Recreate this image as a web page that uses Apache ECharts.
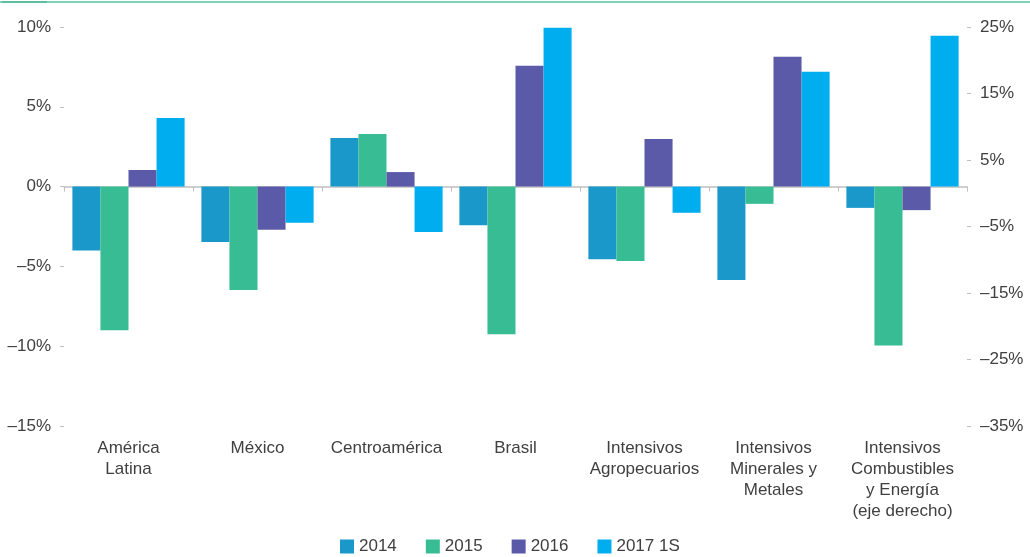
<!DOCTYPE html>
<html>
<head>
<meta charset="utf-8">
<script src="https://cdn.jsdelivr.net/npm/echarts@6/dist/echarts.min.js"></script>
<style>
    html, body { margin: 0; padding: 0; background: #fff; }
    #main { width: 1030px; height: 557px; }
</style>
</head>
<body>
<div id="main"></div>
<script>
    // categorias (la ultima va en el eje derecho)
    const categories = ['América\nLatina', 'México', 'Centroamérica', 'Brasil',
        'Intensivos\nAgropecuarios', 'Intensivos\nMinerales y\nMetales',
        'Intensivos\nCombustibles\ny Energía\n(eje derecho)'];
    const years = ['2014', '2015', '2016', '2017 1S'];
    const v2014 = [-4.0, -3.47, 3.05, -2.42, -4.55, -5.85, -3.2];
    const v2015 = [-9.0, -6.48, 3.30, -9.25, -4.66, -1.08, -23.9];
    const v2016 = [1.04, -2.71, 0.91, 7.57, 2.98, 8.13, -3.54];
    const v2017 = [4.3, -2.27, -2.84, 9.96, -1.64, 7.19, 22.7];
    const colors = ['#1b98ca', '#37bc93', '#5a5aa8', '#00adef'];
    const rightIndex = 6;

    const leftTicks = {min: -15, max: 10, interval: 5};
    const rightTicks = {min: -35, max: 25, interval: 10};

    const font = "'Liberation Sans', Arial, sans-serif";
    const textColor = '#404040';
    const lineColor = '#c0c0c0';

    const pct = function (v) {
        return (v < 0 ? '\u2013' + Math.abs(v) : v) + '%';
    };

    const allValues = [v2014, v2015, v2016, v2017];
    const series = [];
    // series sobre eje izquierdo
    allValues.forEach(function (vals, k) {
        series.push({
            name: years[k],
            type: 'bar',
            xAxisIndex: 0,
            yAxisIndex: 0,
            barGap: '0%',
            barCategoryGap: '13%',
            itemStyle: {color: colors[k]},
            data: vals.map(function (v, i) { return i === rightIndex ? '-' : v; })
        });
    });
    // series sobre eje derecho
    allValues.forEach(function (vals, k) {
        series.push({
            name: years[k],
            type: 'bar',
            xAxisIndex: 1,
            yAxisIndex: 1,
            barGap: '0%',
            barCategoryGap: '13%',
            itemStyle: {color: colors[k]},
            data: vals.map(function (v, i) { return i === rightIndex ? v : '-'; })
        });
    });

    const myChart = echarts.init(document.getElementById('main'));
    myChart.setOption({
        animation: false,
        textStyle: {fontFamily: font},
        graphic: [
            {type: 'rect', shape: {x: 0, y: 1, width: 1030, height: 2}, style: {fill: '#7fd4b6'}},
            {type: 'rect', shape: {x: 2, y: 1, width: 45, height: 2}, style: {fill: '#5fbf9c'}}
        ],
        grid: {left: 64, right: 63, top: 27, bottom: 131},
        legend: {
            left: 335,
            top: 533,
            itemWidth: 14,
            itemHeight: 14,
            itemGap: 29,
            icon: 'rect',
            data: years,
            textStyle: {fontSize: 17, color: textColor, fontFamily: font}
        },
        xAxis: [
            {
                // linea del cero con marcas
                type: 'category',
                data: categories,
                position: 'bottom',
                axisLine: {onZero: true, onZeroAxisIndex: 0, lineStyle: {color: lineColor, width: 1.5}},
                axisTick: {show: true, length: 5, lineStyle: {color: lineColor}},
                axisLabel: {show: false},
                splitLine: {show: false}
            },
            {
                // etiquetas abajo
                type: 'category',
                data: categories,
                position: 'bottom',
                axisLine: {show: false, onZero: false},
                axisTick: {show: false},
                axisLabel: {
                    interval: 0,
                    margin: 12,
                    fontSize: 17,
                    lineHeight: 21,
                    color: textColor,
                    fontFamily: font
                },
                splitLine: {show: false}
            }
        ],
        yAxis: [
            {
                type: 'value',
                position: 'left',
                min: leftTicks.min,
                max: leftTicks.max,
                interval: leftTicks.interval,
                axisLine: {show: false},
                axisTick: {show: true, length: 4, lineStyle: {color: lineColor}},
                splitLine: {show: false},
                axisLabel: {formatter: pct, margin: 13, fontSize: 17, color: textColor, fontFamily: font}
            },
            {
                // escala de las barras de la ultima categoria
                type: 'value',
                position: 'right',
                show: false,
                min: rightTicks.min - 1,
                max: rightTicks.max - 1,
                splitLine: {show: false}
            },
            {
                type: 'value',
                position: 'right',
                min: rightTicks.min,
                max: rightTicks.max,
                interval: rightTicks.interval,
                axisLine: {show: false},
                axisTick: {show: true, length: 4, lineStyle: {color: lineColor}},
                splitLine: {show: false},
                axisLabel: {formatter: pct, margin: 13, fontSize: 17, color: textColor, fontFamily: font}
            }
        ],
        series: series
    });
</script>
</body>
</html>
